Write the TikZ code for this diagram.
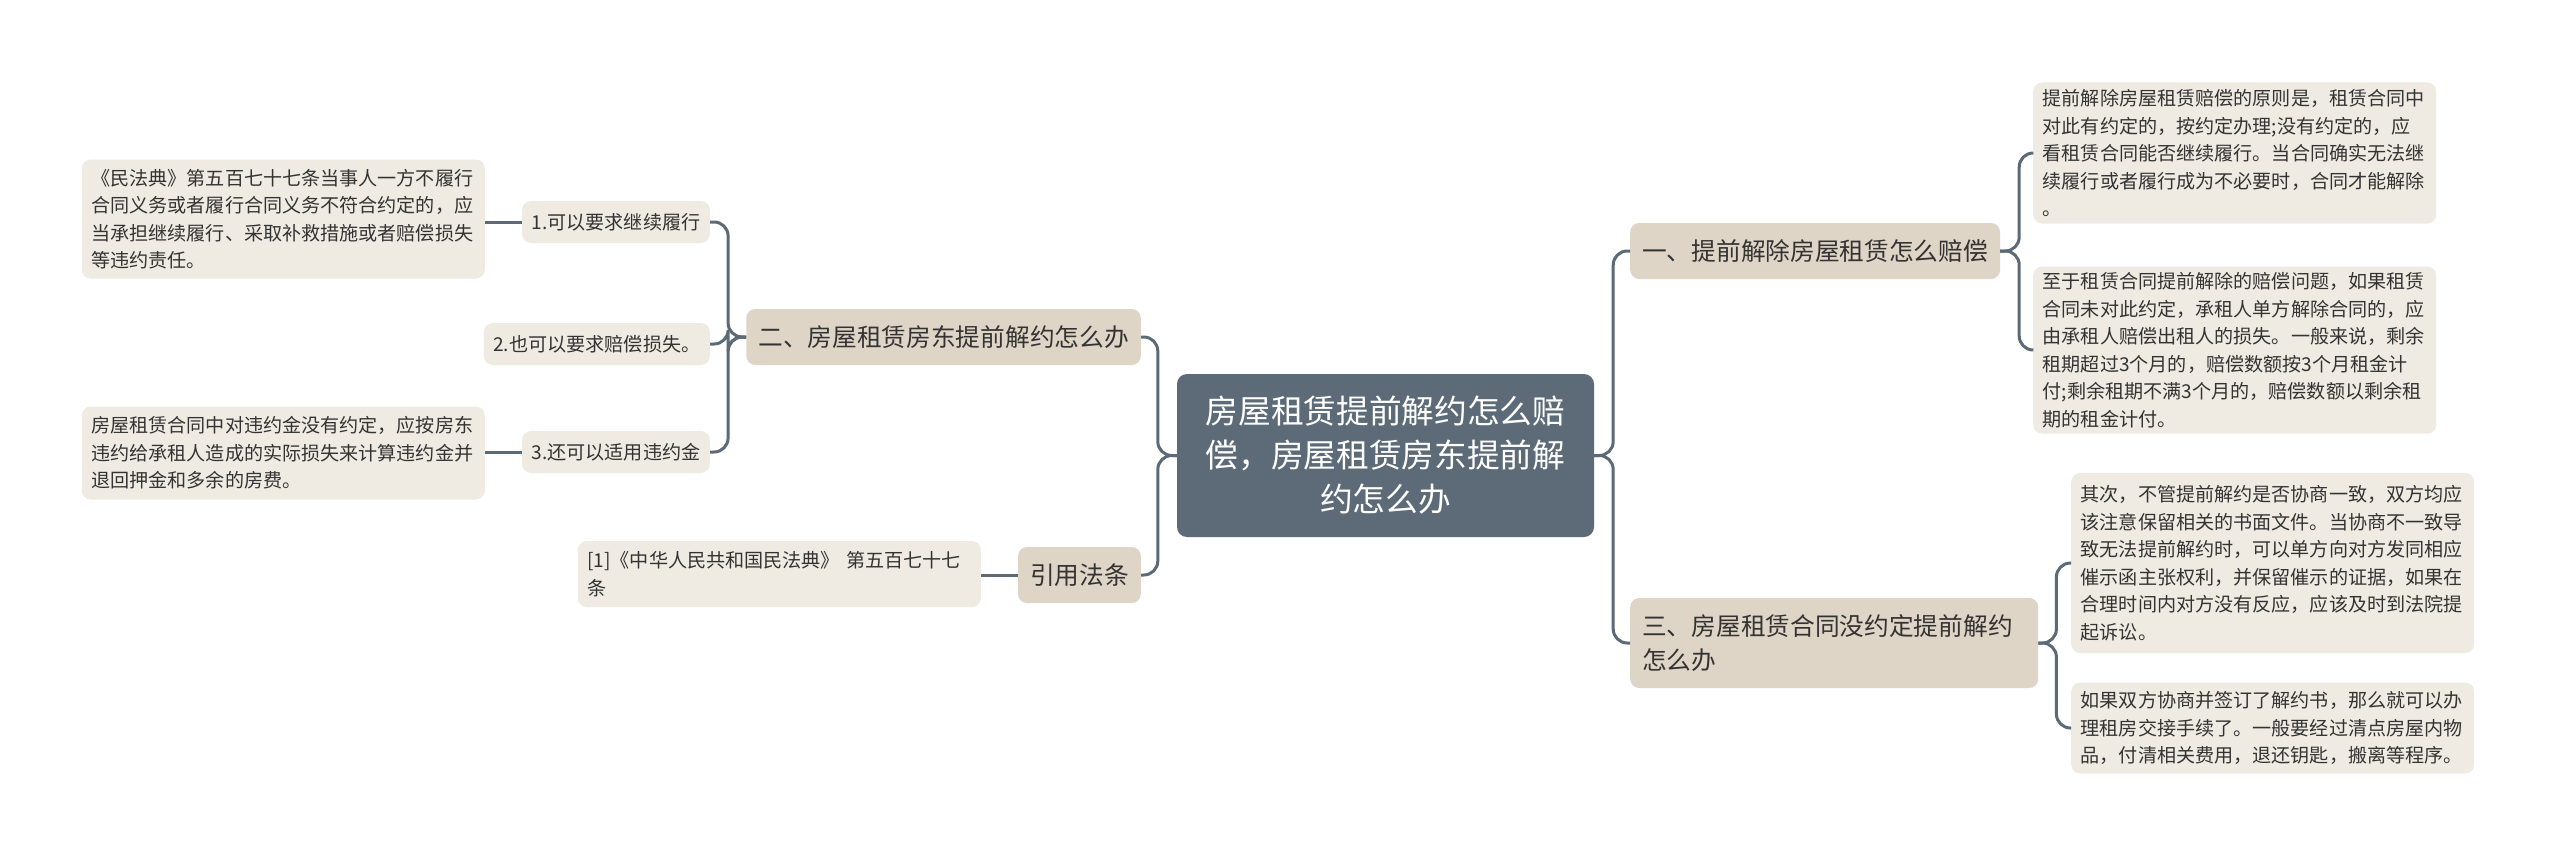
\documentclass[tikz,border=0pt]{standalone}
\usepackage{fontspec}
\usepackage{xcolor}
\newfontfamily\cjk{Noto Sans CJK SC}
\definecolor{ctrfill}{HTML}{5C6B77}
\definecolor{topicfill}{HTML}{DFD5C6}
\definecolor{leaffill}{HTML}{EFEBE3}
\definecolor{linkcol}{HTML}{5B6A76}
\definecolor{inkcol}{HTML}{333333}
\tikzset{
  ctrbox/.style={fill=ctrfill,rounded corners=10pt,text=white,align=center,inner xsep=10pt,text width=397pt,minimum height=163pt,font=\cjk\fontsize{32.7pt}{44pt}\selectfont},
  topic/.style={fill=topicfill,rounded corners=9pt,text=inkcol,inner xsep=12pt,minimum height=56pt,font=\cjk\fontsize{24.7pt}{34pt}\selectfont},
  leaf/.style={fill=leaffill,rounded corners=9pt,text=inkcol,inner xsep=9.5pt,minimum height=42pt,font=\cjk\fontsize{19.1pt}{27.5pt}\selectfont},
  note/.style={leaf,align=left,text width=384pt},
  link/.style={draw=linkcol,line width=3pt,rounded corners=14pt}
}

\begin{document}
\begin{tikzpicture}[x=1pt,y=-1pt]
\path[use as bounding box,fill=white] (0,0) rectangle (2560,859);

\node[ctrbox] (ctr) at (1385.5,455.5) {房屋租赁提前解约怎么赔\\偿，房屋租赁房东提前解\\约怎么办};

\node[topic,anchor=west] (t1) at (1630,251) {一、提前解除房屋租赁怎么赔偿};
\node[topic,anchor=west,align=left,text width=384pt,minimum height=90pt] (t3) at (1630,643) {三、房屋租赁合同没约定提前解约\\怎么办};
\node[topic,anchor=east] (t2) at (1141,337) {二、房屋租赁房东提前解约怎么办};
\node[topic,anchor=east] (law) at (1141,575) {引用法条};

\node[note,anchor=west,minimum height=141pt] (r1) at (2033,153) {提前解除房屋租赁赔偿的原则是，租赁合同中\\对此有约定的，按约定办理;没有约定的，应\\看租赁合同能否继续履行。当合同确实无法继\\续履行或者履行成为不必要时，合同才能解除\\。};
\node[note,anchor=west,minimum height=167pt] (r2) at (2033,350) {至于租赁合同提前解除的赔偿问题，如果租赁\\合同未对此约定，承租人单方解除合同的，应\\由承租人赔偿出租人的损失。一般来说，剩余\\租期超过3个月的，赔偿数额按3个月租金计\\付;剩余租期不满3个月的，赔偿数额以剩余租\\期的租金计付。};
\node[note,anchor=west,minimum height=180pt] (r3) at (2071,563) {其次，不管提前解约是否协商一致，双方均应\\该注意保留相关的书面文件。当协商不一致导\\致无法提前解约时，可以单方向对方发同相应\\催示函主张权利，并保留催示的证据，如果在\\合理时间内对方没有反应，应该及时到法院提\\起诉讼。};
\node[note,anchor=west,minimum height=91pt] (r4) at (2071,728) {如果双方协商并签订了解约书，那么就可以办\\理租房交接手续了。一般要经过清点房屋内物\\品，付清相关费用，退还钥匙，搬离等程序。};

\node[leaf,anchor=east] (s1) at (710,222) {1.可以要求继续履行};
\node[leaf,anchor=east] (s2) at (710,344) {2.也可以要求赔偿损失。};
\node[leaf,anchor=east] (s3) at (710,452) {3.还可以适用违约金};

\node[note,anchor=east,minimum height=119pt] (l1) at (485,219) {《民法典》第五百七十七条当事人一方不履行\\合同义务或者履行合同义务不符合约定的，应\\当承担继续履行、采取补救措施或者赔偿损失\\等违约责任。};
\node[note,anchor=east,minimum height=93pt] (l3) at (485,453) {房屋租赁合同中对违约金没有约定，应按房东\\违约给承租人造成的实际损失来计算违约金并\\退回押金和多余的房费。};
\node[note,anchor=east,minimum height=66pt] (ref) at (981,574) {[1]《中华人民共和国民法典》 第五百七十七\\条};

\draw[link] (ctr.east) -- ++(19,0) |- (t1.west);
\draw[link] (ctr.east) -- ++(19,0) |- (t3.west);
\draw[link] (t1.east) -- ++(19,0) |- (r1.west);
\draw[link] (t1.east) -- ++(19,0) |- (r2.west);
\draw[link] (t3.east) -- ++(18,0) |- (r3.west);
\draw[link] (t3.east) -- ++(18,0) |- (r4.west);

\draw[link] (ctr.west) -- ++(-19,0) |- (t2.east);
\draw[link] (ctr.west) -- ++(-19,0) |- (law.east);
\draw[link] (t2.west) -- ++(-18,0) |- (s1.east);
\draw[link] (t2.west) -- ++(-18,0) |- (s2.east);
\draw[link] (t2.west) -- ++(-18,0) |- (s3.east);
\draw[link] (s1.west) -- (s1.west -| l1.east);
\draw[link] (s3.west) -- (s3.west -| l3.east);
\draw[link] (law.west) -- (law.west -| ref.east);
\end{tikzpicture}
\end{document}
